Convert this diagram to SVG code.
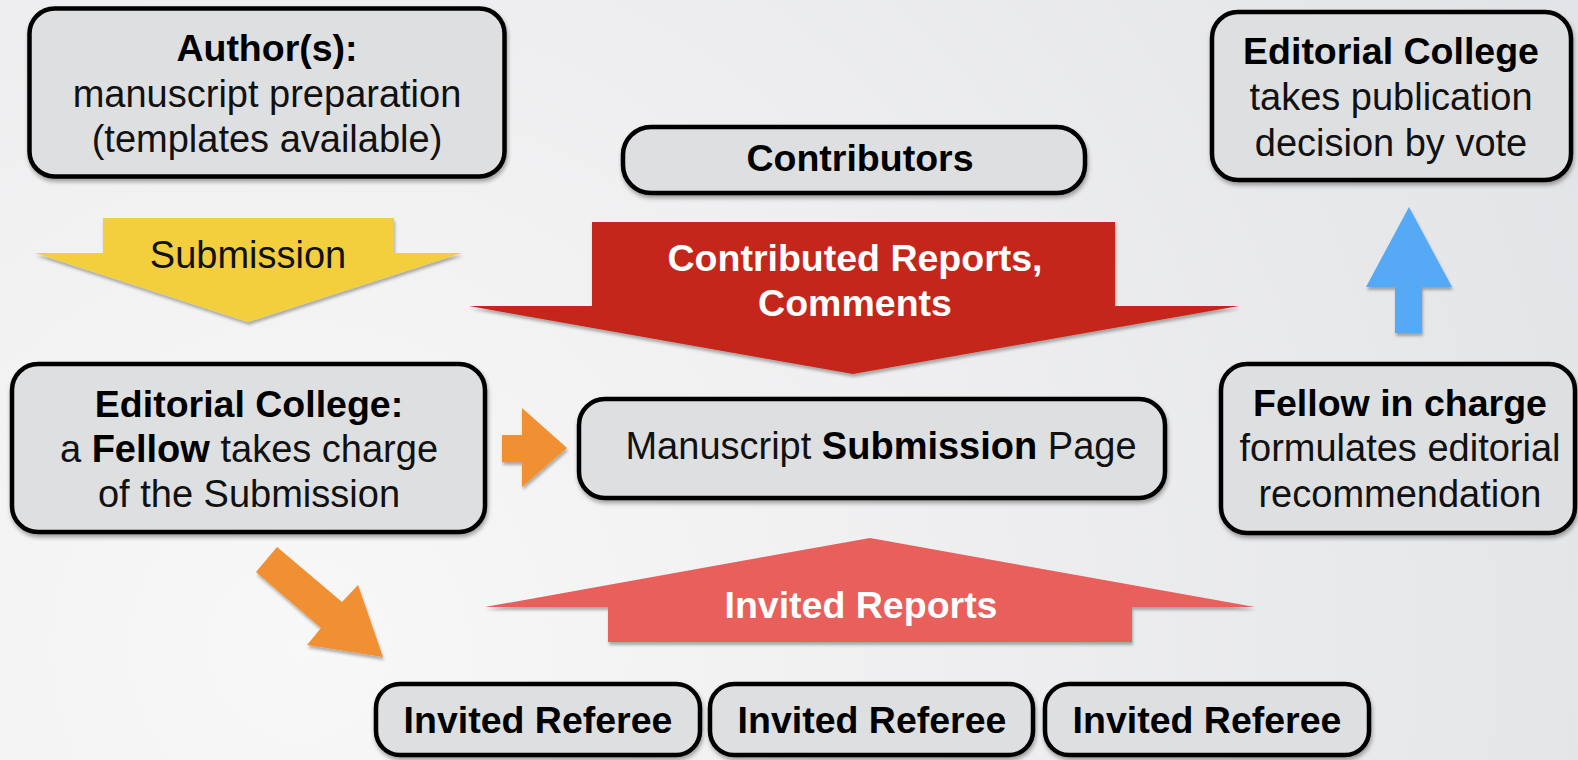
<svg xmlns="http://www.w3.org/2000/svg" width="1578" height="760" viewBox="0 0 1578 760">
<defs>
<radialGradient id="bg" cx="300" cy="650" r="1400" gradientUnits="userSpaceOnUse">
<stop offset="0" stop-color="#F8F8F8"/>
<stop offset="1" stop-color="#E3E4E7"/>
</radialGradient>
<filter id="sh" x="-10%" y="-10%" width="120%" height="130%">
<feDropShadow dx="1" dy="3" stdDeviation="2" flood-color="#000" flood-opacity="0.35"/>
</filter>
<filter id="ash" x="-10%" y="-10%" width="120%" height="130%">
<feDropShadow dx="1" dy="3" stdDeviation="1.5" flood-color="#000" flood-opacity="0.3"/>
</filter>
<style>
.box{fill:#DEDFE1;stroke:#000;stroke-width:4.5;filter:url(#sh)}
.t{font-family:"Liberation Sans",Arial,sans-serif;font-size:38px;fill:#111;text-anchor:middle}
.b{font-family:"Liberation Sans",Arial,sans-serif;font-size:37.5px;font-weight:bold;fill:#000;text-anchor:middle}
.w{font-family:"Liberation Sans",Arial,sans-serif;font-size:37.5px;font-weight:bold;fill:#fff;text-anchor:middle}
.arr{filter:url(#ash)}
</style>
</defs>
<rect x="0" y="0" width="1578" height="760" fill="url(#bg)"/>

<g id="connectors">
<g id="submission-arrow">
<polygon class="arr" fill="#F3CF3D" points="103,218 394,218 394,253 462,253 248,322 35,253 103,253"/>
<text class="t" x="248" y="268">Submission</text>
</g>
<g id="contributed-arrow">
<polygon class="arr" fill="#C5281A" points="592,222 1115,222 1115,306 1239,306 853,374 469,306 592,306"/>
<text class="w" x="855" y="271">Contributed Reports,</text>
<text class="w" x="855" y="316">Comments</text>
</g>
<g id="invited-arrow">
<polygon class="arr" fill="#E95F5C" points="870,538 1255,607 1132,607 1132,642 608,642 608,607 485,607"/>
<text class="w" x="861" y="618">Invited Reports</text>
</g>
<polygon id="blue-arrow" class="arr" fill="#56AAF5" points="1409,207 1452,287 1422,287 1422,333 1395,333 1395,287 1366,287"/>
<polygon id="orange-right" class="arr" fill="#F09030" points="502,435 522,435 522,408 567,448 522,487 522,462 502,462"/>
<polygon id="orange-diag" class="arr" fill="#F09030" points="256,572 277,547 342,602 358,585 383,657 307,645 321,628"/>
</g>

<g id="authors">
<rect class="box" x="29.5" y="8.5" width="475" height="168" rx="25"/>
<text class="b" x="267" y="61">Author(s):</text>
<text class="t" x="267" y="107">manuscript preparation</text>
<text class="t" x="267" y="152">(templates available)</text>
</g>

<g id="contributors">
<rect class="box" x="623" y="127" width="462" height="66" rx="28"/>
<text class="b" x="860" y="171">Contributors</text>
</g>

<g id="editorial-college-vote">
<rect class="box" x="1212" y="12" width="359" height="168" rx="26"/>
<text class="b" x="1391" y="64">Editorial College</text>
<text class="t" x="1391" y="110">takes publication</text>
<text class="t" x="1391" y="156">decision by vote</text>
</g>

<g id="editorial-college">
<rect class="box" x="12" y="364" width="473" height="168" rx="26"/>
<text class="b" x="249" y="417">Editorial College:</text>
<text class="t" x="249" y="462">a <tspan font-weight="bold" fill="#000">Fellow</tspan> takes charge</text>
<text class="t" x="249" y="507">of the Submission</text>
</g>

<g id="submission-page">
<rect class="box" x="579" y="399" width="586" height="99" rx="26"/>
<text class="t" x="881" y="459">Manuscript <tspan font-weight="bold" fill="#000">Submission</tspan> Page</text>
</g>

<g id="fellow-in-charge">
<rect class="box" x="1221" y="364" width="354" height="169" rx="26"/>
<text class="b" x="1400" y="416">Fellow in charge</text>
<text class="t" x="1400" y="461">formulates editorial</text>
<text class="t" x="1400" y="507">recommendation</text>
</g>

<g id="referee-1">
<rect class="box" x="376" y="684" width="324" height="71" rx="24"/>
<text class="b" x="538" y="733">Invited Referee</text>
</g>
<g id="referee-2">
<rect class="box" x="710" y="684" width="323" height="71" rx="24"/>
<text class="b" x="872" y="733">Invited Referee</text>
</g>
<g id="referee-3">
<rect class="box" x="1045" y="684" width="324" height="71" rx="24"/>
<text class="b" x="1207" y="733">Invited Referee</text>
</g>
</svg>
